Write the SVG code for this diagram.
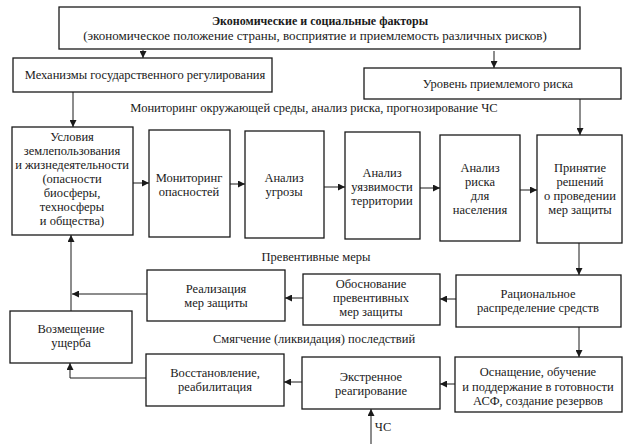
<svg xmlns="http://www.w3.org/2000/svg" width="627" height="444" viewBox="0 0 627 444">
<style>
.box{fill:#fff;stroke:#1a1a1a;stroke-width:1.3}
.t{font-size:12.5px;fill:#1a1a1a;text-anchor:middle}
.b{font-weight:bold;font-size:12px}
.m{font-size:13px}
.s{font-size:12.5px}
.c{fill:none;stroke:#1a1a1a;stroke-width:1}
</style>
<defs>
<marker id="ah" viewBox="0 0 10 10" refX="10" refY="5" markerWidth="7" markerHeight="7" markerUnits="userSpaceOnUse" orient="auto">
<path d="M0,0 L10,5 L0,10 Z" fill="#1a1a1a"/>
</marker>
</defs>
<rect width="627" height="444" fill="#fff"/>
<g id="connectors">
<path class="c" marker-end="url(#ah)" d="M143,50 V58"/>
<path class="c" marker-end="url(#ah)" d="M494,51 V68"/>
<path class="c" marker-end="url(#ah)" d="M73,92 V127"/>
<path class="c" marker-end="url(#ah)" d="M580,99 V135"/>
<path class="c" marker-end="url(#ah)" d="M133,183 H149"/>
<path class="c" marker-end="url(#ah)" d="M230,184 H245"/>
<path class="c" marker-end="url(#ah)" d="M324,187 H345"/>
<path class="c" marker-end="url(#ah)" d="M420,188 H440"/>
<path class="c" marker-end="url(#ah)" d="M520,190 H537"/>
<path class="c" marker-end="url(#ah)" d="M579,243 V275"/>
<path class="c" marker-end="url(#ah)" d="M456,299 H440"/>
<path class="c" marker-end="url(#ah)" d="M303,298 H285"/>
<path class="c" marker-end="url(#ah)" d="M147,294 H72"/>
<path class="c" marker-end="url(#ah)" d="M71,311 V235"/>
<path class="c" marker-end="url(#ah)" d="M579,327 V357"/>
<path class="c" marker-end="url(#ah)" d="M455,384 H440"/>
<path class="c" marker-end="url(#ah)" d="M302,382 H284"/>
<path class="c" marker-end="url(#ah)" d="M146,378 H70 V363"/>
<path class="c" marker-end="url(#ah)" d="M371,444 V409"/>
</g>
<g font-family="'Liberation Serif', 'DejaVu Serif', serif">
<g id="labels">
<text class="t" x="314" y="112">Мониторинг окружающей среды, анализ риска, прогнозирование ЧС</text>
<text class="t" x="316" y="261">Превентивные меры</text>
<text class="t" x="314" y="343">Смягчение (ликвидация) последствий</text>
<text class="t" x="383" y="431">ЧС</text>
</g>
<g id="n-factors">
<rect class="box" x="59" y="7" width="521" height="42"/>
<text class="t b" x="320" y="25">Экономические и социальные факторы</text>
<text class="t m" x="315" y="40">(экономическое положение страны, восприятие и приемлемость различных рисков)</text>
</g>
<g id="n-mech">
<rect class="box" x="13" y="58" width="259" height="34"/>
<text class="t" x="145" y="79">Механизмы государственного регулирования</text>
</g>
<g id="n-level">
<rect class="box" x="364" y="68" width="257" height="31"/>
<text class="t" x="498" y="88">Уровень приемлемого риска</text>
</g>
<g id="n-cond">
<rect class="box" x="12" y="127" width="121" height="108"/>
<text class="t s" x="72" y="141">Условия</text>
<text class="t s" x="72" y="155">землепользования</text>
<text class="t s" x="72" y="169">и жизнедеятельности</text>
<text class="t s" x="72" y="183">(опасности</text>
<text class="t s" x="72" y="197">биосферы,</text>
<text class="t s" x="72" y="211">техносферы</text>
<text class="t s" x="72" y="225">и общества)</text>
</g>
<g id="n-mon">
<rect class="box" x="149" y="130" width="81" height="107"/>
<text class="t" x="189" y="182">Мониторинг</text>
<text class="t" x="189" y="196">опасностей</text>
</g>
<g id="n-threat">
<rect class="box" x="245" y="131" width="79" height="107"/>
<text class="t" x="284" y="182">Анализ</text>
<text class="t" x="284" y="196">угрозы</text>
</g>
<g id="n-vuln">
<rect class="box" x="345" y="132" width="75" height="107"/>
<text class="t" x="382" y="177">Анализ</text>
<text class="t" x="382" y="191">уязвимости</text>
<text class="t" x="382" y="205">территории</text>
</g>
<g id="n-risk">
<rect class="box" x="440" y="135" width="80" height="106"/>
<text class="t" x="480" y="172">Анализ</text>
<text class="t" x="480" y="186">риска</text>
<text class="t" x="480" y="200">для</text>
<text class="t" x="480" y="214">населения</text>
</g>
<g id="n-decision">
<rect class="box" x="537" y="135" width="85" height="108"/>
<text class="t" x="580" y="172">Принятие</text>
<text class="t" x="580" y="186">решений</text>
<text class="t" x="580" y="200">о проведении</text>
<text class="t" x="580" y="214">мер защиты</text>
</g>
<g id="n-rational">
<rect class="box" x="456" y="275" width="165" height="52"/>
<text class="t" x="538" y="298">Рациональное</text>
<text class="t" x="538" y="312">распределение средств</text>
</g>
<g id="n-justify">
<rect class="box" x="303" y="274" width="137" height="51"/>
<text class="t" x="371" y="288">Обоснование</text>
<text class="t" x="371" y="302">превентивных</text>
<text class="t" x="371" y="316">мер защиты</text>
</g>
<g id="n-impl">
<rect class="box" x="147" y="270" width="138" height="51"/>
<text class="t" x="216" y="293">Реализация</text>
<text class="t" x="216" y="307">мер защиты</text>
</g>
<g id="n-comp">
<rect class="box" x="10" y="311" width="122" height="52"/>
<text class="t" x="71" y="333">Возмещение</text>
<text class="t" x="71" y="347">ущерба</text>
</g>
<g id="n-equip">
<rect class="box" x="455" y="357" width="167" height="55"/>
<text class="t" x="538" y="376">Оснащение, обучение</text>
<text class="t" x="538" y="391">и поддержание в готовности</text>
<text class="t" x="538" y="405">АСФ, создание резервов</text>
</g>
<g id="n-emerg">
<rect class="box" x="302" y="357" width="138" height="52"/>
<text class="t" x="371" y="381">Экстренное</text>
<text class="t" x="371" y="395">реагирование</text>
</g>
<g id="n-restore">
<rect class="box" x="146" y="354" width="138" height="52"/>
<text class="t" x="215" y="377">Восстановление,</text>
<text class="t" x="215" y="391">реабилитация</text>
</g>
</g>
</svg>
